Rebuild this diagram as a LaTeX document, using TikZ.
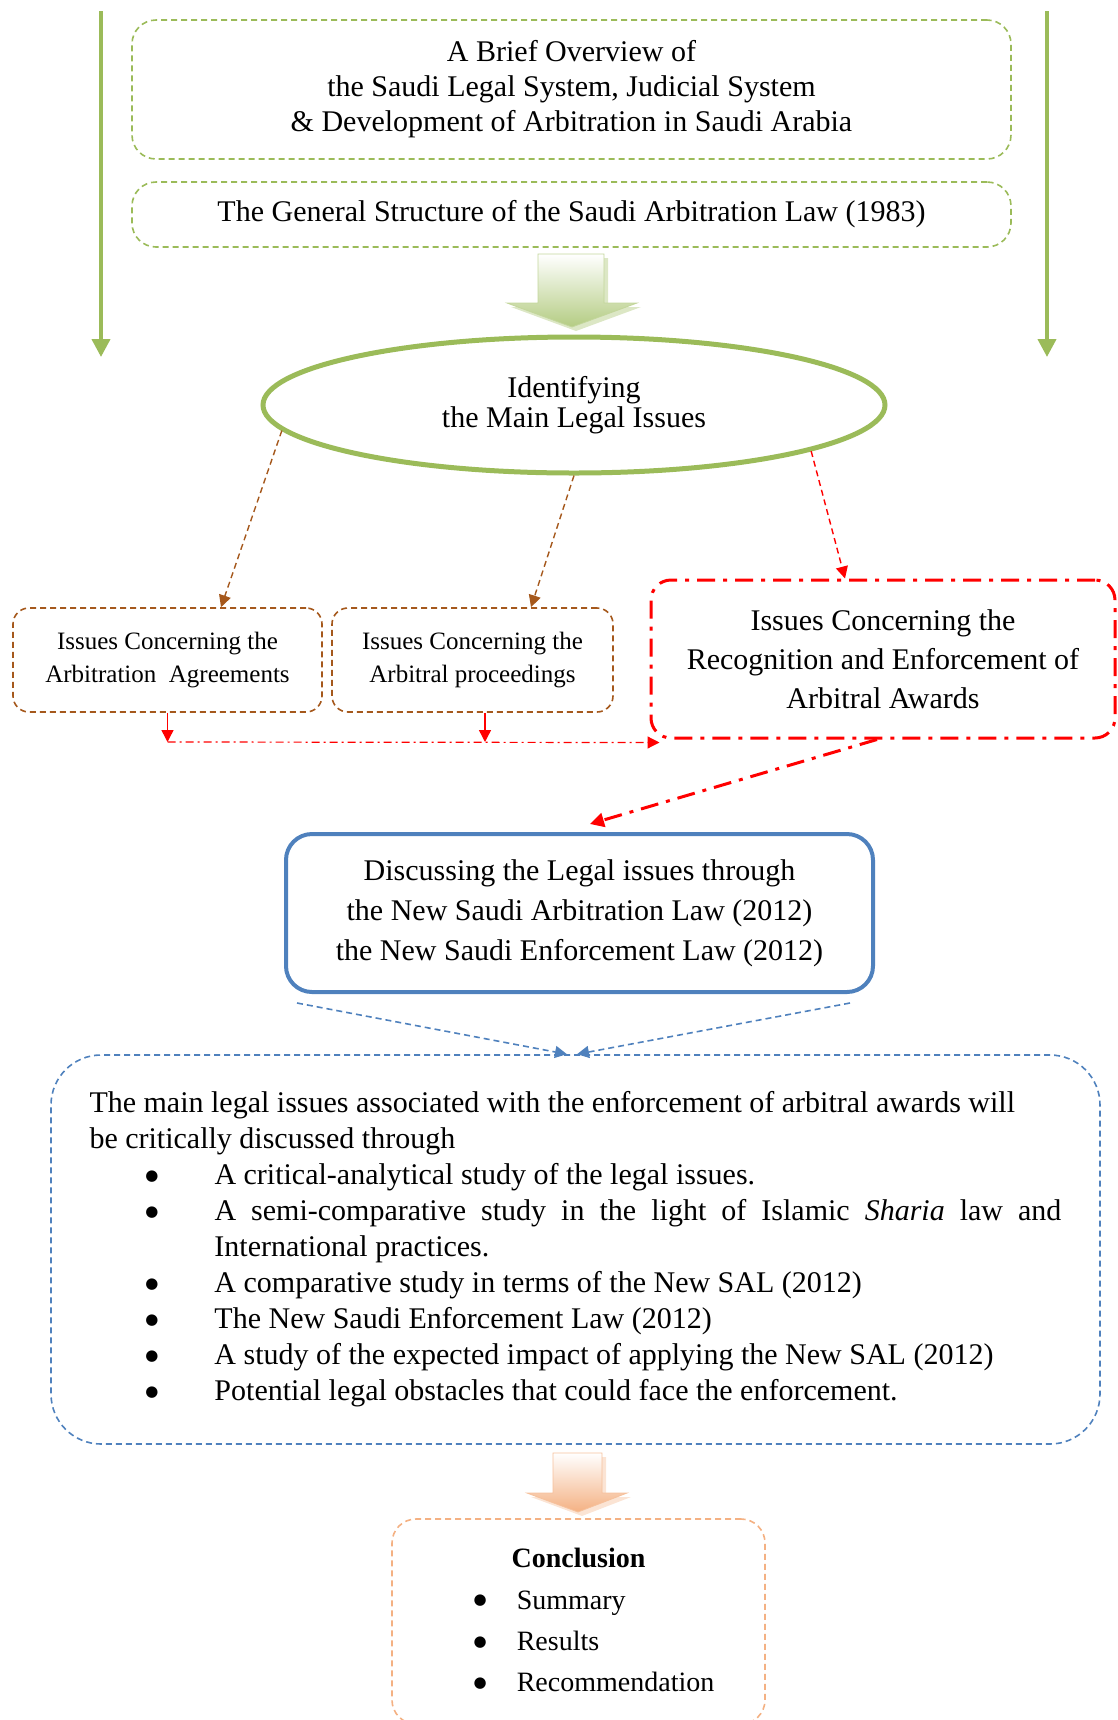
\documentclass[tikz,border=0pt]{standalone}
\usepackage{fontspec}
\setmainfont{Liberation Serif}
\newfontfamily\dotfont{DejaVu Sans}
\usetikzlibrary{arrows.meta,shapes.geometric}

\definecolor{leafgreen}{RGB}{155,187,89}
\definecolor{rustbrown}{RGB}{165,88,28}
\definecolor{lawblue}{RGB}{79,129,189}
\definecolor{peach}{RGB}{244,177,131}

\newcommand{\bigdot}{{\fontsize{7.5}{7.5}\dotfont\raisebox{2.2pt}{●}}}
\newcommand{\lawitem}[1]{\par\hangindent=62.5pt\hangafter=1\noindent\hspace*{28pt}\makebox[34.5pt][l]{\bigdot}#1}

\begin{document}
\begin{tikzpicture}[x=0.5pt,y=-0.5pt,
    greenbox/.style={draw=leafgreen,line width=0.8pt,dash pattern=on 3pt off 2pt,rounded corners=12pt,align=center,font=\fontsize{15}{17.5}\selectfont},
    brownbox/.style={draw=rustbrown,line width=0.8pt,dash pattern=on 3pt off 2pt,rounded corners=8pt,align=center,font=\fontsize{12.5}{16.5}\selectfont},
    redbox/.style={draw=red,line width=1.5pt,dash pattern=on 9pt off 4pt on 2pt off 4pt,rounded corners=10pt,align=center,font=\fontsize{15}{19.5}\selectfont},
    bluebox/.style={draw=lawblue,line width=2pt,rounded corners=13pt,align=center,font=\fontsize{15}{20}\selectfont},
    studybox/.style={draw=lawblue,line width=0.8pt,dash pattern=on 3pt off 2pt,rounded corners=25pt,align=justify,font=\fontsize{15}{18}\selectfont},
    peachbox/.style={draw=peach,line width=0.8pt,dash pattern=on 3pt off 2pt,rounded corners=12pt,font=\fontsize{14}{20.7}\selectfont},
    greenline/.style={draw=leafgreen,line width=2pt,-{Triangle[length=9pt,width=9pt]}},
    brownarrow/.style={draw=rustbrown,line width=0.7pt,dash pattern=on 3pt off 2pt,-{Triangle[length=6pt,width=6pt]}},
    redarrow/.style={draw=red,line width=0.7pt,dash pattern=on 3pt off 2pt,-{Triangle[length=6pt,width=6pt]}},
    redsmall/.style={draw=red,line width=0.7pt,-{Triangle[length=6pt,width=6pt]}},
    redthin/.style={draw=red,line width=0.6pt,dash pattern=on 4pt off 2pt on 1pt off 2pt,-{Triangle[length=6pt,width=6pt]}},
    redbig/.style={draw=red,line width=1.5pt,dash pattern=on 9pt off 4pt on 2pt off 4pt,-{Triangle[length=7pt,width=7pt]}},
    bluearrow/.style={draw=lawblue,line width=0.8pt,dash pattern=on 3pt off 2pt,-{Triangle[length=6pt,width=6pt]}}]
  \useasboundingbox (0,0) rectangle (1118,1720);

  \coordinate (lefttop) at (101,11);
  \coordinate (leftend) at (101,357);
  \coordinate (righttop) at (1047,11);
  \coordinate (rightend) at (1047,357);
  \draw[greenline] (lefttop) -- (leftend);
  \draw[greenline] (righttop) -- (rightend);

  \node (overview) [greenbox,minimum width=439.5pt,minimum height=69.5pt] at (571.5,89.5)
    {A Brief Overview of\\the Saudi Legal System, Judicial System\\\& Development of Arbitration in Saudi Arabia};
  \node (structure) [greenbox,minimum width=439.5pt,minimum height=32.5pt] at (571.5,214.5)
    {The General Structure of the Saudi Arbitration Law (1983)};

  \fill[leafgreen!35] (542,258) -- (608,258) -- (608,307) -- (641,307) -- (576,331) -- (511,307) -- (542,307) -- cycle;
  \shade[top color=white,bottom color=leafgreen!75,draw=leafgreen!60,line width=0.4pt]
    (538,254) -- (604,254) -- (604,303) -- (637,303) -- (572,327) -- (507,303) -- (538,303) -- cycle;

  \node (identify) [ellipse,draw=leafgreen,line width=2.5pt,minimum width=311pt,minimum height=68pt,inner sep=0pt,align=center,font=\fontsize{15}{15}\selectfont] at (574,405)
    {Identifying\\the Main Legal Issues};

  \node (agreements) [brownbox,minimum width=154.5pt,minimum height=52pt] at (167.5,660)
    {Issues Concerning the\\Arbitration\ \ Agreements};
  \node (proceedings) [brownbox,minimum width=140.5pt,minimum height=52pt] at (472.5,660)
    {Issues Concerning the\\Arbitral proceedings};
  \node (awards) [redbox,minimum width=232pt,minimum height=79pt] at (883,659)
    {Issues Concerning the\\Recognition and Enforcement of\\Arbitral Awards};

  \draw[brownarrow] (identify.185) -- ([xshift=26.75pt]agreements.north);
  \draw[brownarrow] (identify.south) -- ([xshift=29.25pt]proceedings.north);
  \draw[redarrow] (identify.-11) -- ([xshift=-19pt]awards.north);

  \coordinate (busleft) at (167.5,742);
  \coordinate (busmid) at (485,742);
  \draw[redsmall] (agreements.south) -- (busleft);
  \draw[redsmall] ([xshift=6.25pt]proceedings.south) -- (busmid);
  \draw[redthin] (busleft) -- ([xshift=5pt,yshift=-1.5pt]awards.south west);

  \node (discussing) [bluebox,minimum width=293.5pt,minimum height=79pt] at (579.5,913)
    {Discussing the Legal issues through\\the New Saudi Arbitration Law (2012)\\the New Saudi Enforcement Law (2012)};
  \draw[redbig] ([xshift=-3pt]awards.south) -- ([xshift=5.25pt,yshift=4pt]discussing.north);

  \node (study) [studybox,minimum width=524.5pt,minimum height=194.5pt,text width=486pt] at (575.5,1249.5)
    {\hyphenpenalty=10000\exhyphenpenalty=10000\relax
     The main legal issues associated with the enforcement of arbitral awards will\\be critically discussed through
     \lawitem{A critical-analytical study of the legal issues.}
     \lawitem{A semi-comparative study in the light of Islamic \textit{Sharia} law and International practices.}
     \lawitem{A comparative study in terms of the New SAL (2012)}
     \lawitem{The New Saudi Enforcement Law (2012)}
     \lawitem{A study of the expected impact of applying the New SAL (2012)}
     \lawitem{Potential legal obstacles that could face the enforcement.}};
  \draw[bluearrow] ([xshift=6.5pt,yshift=-4.5pt]discussing.south west) -- ([xshift=-4.25pt]study.north);
  \draw[bluearrow] ([xshift=-12.5pt,yshift=-4.5pt]discussing.south east) -- ([xshift=0.75pt]study.north);

  \fill[peach!35] (557,1457) -- (606,1457) -- (606,1497) -- (631,1497) -- (582,1516) -- (531,1497) -- (557,1497) -- cycle;
  \shade[top color=white,bottom color=peach,draw=peach!80,line width=0.4pt]
    (553,1453) -- (602,1453) -- (602,1493) -- (627,1493) -- (578,1512) -- (527,1493) -- (553,1493) -- cycle;

  \node (conclusion) [peachbox,minimum width=186.5pt,minimum height=102.5pt] at (578.5,1621.5)
    {\begin{tabular}{@{\hspace{15.5pt}}l@{\hspace{15pt}}l@{}}
       \multicolumn{2}{@{}c@{}}{\bfseries Conclusion}\\
       \bigdot & Summary\\
       \bigdot & Results\\
       \bigdot & Recommendation
     \end{tabular}};
\end{tikzpicture}
\end{document}
